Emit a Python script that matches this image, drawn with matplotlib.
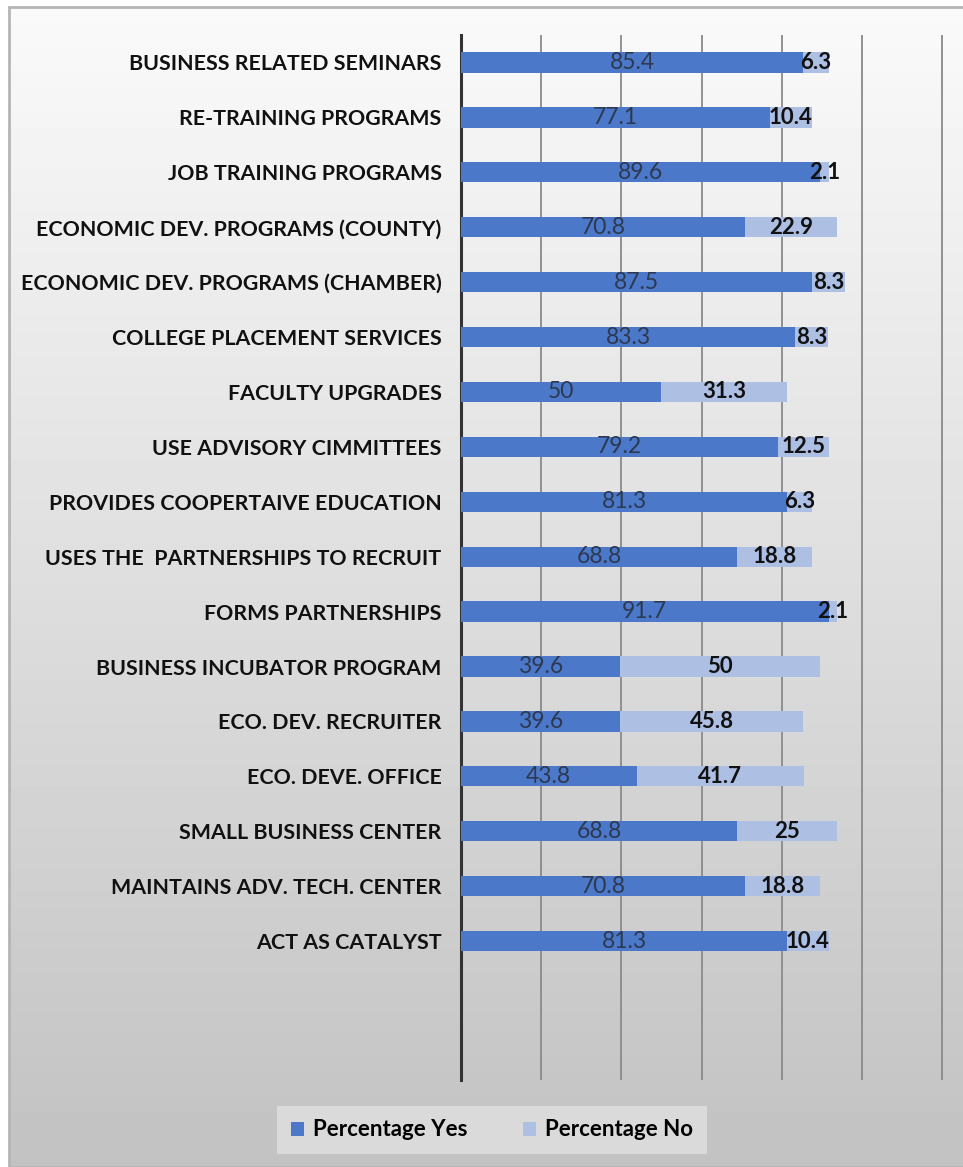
import matplotlib.pyplot as plt
import numpy as np
from matplotlib.patches import Rectangle

categories = [
    "BUSINESS RELATED SEMINARS",
    "RE-TRAINING PROGRAMS",
    "JOB TRAINING PROGRAMS",
    "ECONOMIC DEV. PROGRAMS (COUNTY)",
    "ECONOMIC DEV. PROGRAMS (CHAMBER)",
    "COLLEGE PLACEMENT SERVICES",
    "FACULTY UPGRADES",
    "USE ADVISORY CIMMITTEES",
    "PROVIDES COOPERTAIVE EDUCATION",
    "USES THE  PARTNERSHIPS TO RECRUIT",
    "FORMS PARTNERSHIPS",
    "BUSINESS INCUBATOR PROGRAM",
    "ECO. DEV. RECRUITER",
    "ECO. DEVE. OFFICE",
    "SMALL BUSINESS CENTER",
    "MAINTAINS ADV. TECH. CENTER",
    "ACT AS CATALYST",
]
pct_yes = [85.4, 77.1, 89.6, 70.8, 87.5, 83.3, 50, 79.2, 81.3, 68.8, 91.7, 39.6, 39.6, 43.8, 68.8, 70.8, 81.3]
pct_no = [6.3, 10.4, 2.1, 22.9, 8.3, 8.3, 31.3, 12.5, 6.3, 18.8, 2.1, 50, 45.8, 41.7, 25, 18.8, 10.4]

yes_color = "#4c78c9"
no_color = "#adc0e4"
font = ["Lato", "DejaVu Sans"]
plt.rcParams["font.family"] = font

fig = plt.figure(figsize=(9.63, 11.67), dpi=100)

# gray gradient backdrop with a thin frame
bg = fig.add_axes([0, 0, 1, 1], zorder=-10)
grad = np.linspace(0.98, 0.76, 256).reshape(-1, 1)
bg.imshow(grad, cmap="gray", vmin=0, vmax=1, aspect="auto",
          extent=[9 / 963, 1, 0, 1 - 7 / 1167])
bg.add_patch(Rectangle((9 / 963, 0), 1, 1 - 7 / 1167, fill=False,
                       edgecolor="#b5b5b5", linewidth=2))
bg.set_xlim(0, 1)
bg.set_ylim(0, 1)
bg.axis("off")

px_per_unit = (942 - 461) / 120
ax = fig.add_axes([461 / 963, 1 - 1080 / 1167, 121 * px_per_unit / 963, (1080 - 35) / 1167])
ax.patch.set_alpha(0)

y = np.arange(len(categories))
h = 0.37
ax.barh(y, pct_yes, height=h, color=yes_color, label="Percentage Yes", zorder=3)
ax.barh(y, pct_no, left=pct_yes, height=h, color=no_color, label="Percentage No", zorder=3)

for i in range(len(categories)):
    ax.text(pct_yes[i] / 2, y[i], f"{pct_yes[i]:g}", ha="center", va="center",
            fontsize=16.5, color="#2c3950", zorder=4)
    ax.text(pct_yes[i] + pct_no[i] / 2, y[i], f"{pct_no[i]:g}", ha="center", va="center",
            fontsize=16, fontweight="bold", color="#111111", zorder=4)

ax.set_xlim(0, 121)
ax.set_ylim(len(categories) + 1.53, -0.5)
ax.set_xticks(np.arange(20, 121, 20))
ax.xaxis.grid(True, color="#8a8a8a", linewidth=1.3, zorder=0)
ax.tick_params(axis="x", length=0, labelbottom=False)
ax.tick_params(axis="y", length=0, pad=14)
ax.set_yticks(y)
ax.set_yticklabels(categories, fontsize=15.4, fontweight="bold", color="#111111")
for s in ["top", "right", "bottom"]:
    ax.spines[s].set_visible(False)
ax.spines["left"].set_color("#333333")
ax.spines["left"].set_linewidth(2.2)

leg = fig.legend(loc="center", bbox_to_anchor=(492 / 963, 1 - 1130 / 1167), ncol=2,
                 frameon=True, fancybox=False,
                 prop={"weight": "bold", "size": 16, "family": font},
                 handlelength=0.6, handleheight=0.6, columnspacing=2.5,
                 borderpad=0.6, handletextpad=0.4)
leg.get_frame().set_facecolor("#dadada")
leg.get_frame().set_edgecolor("none")
leg.get_frame().set_alpha(1)

fig.savefig("out.png", dpi=100)
